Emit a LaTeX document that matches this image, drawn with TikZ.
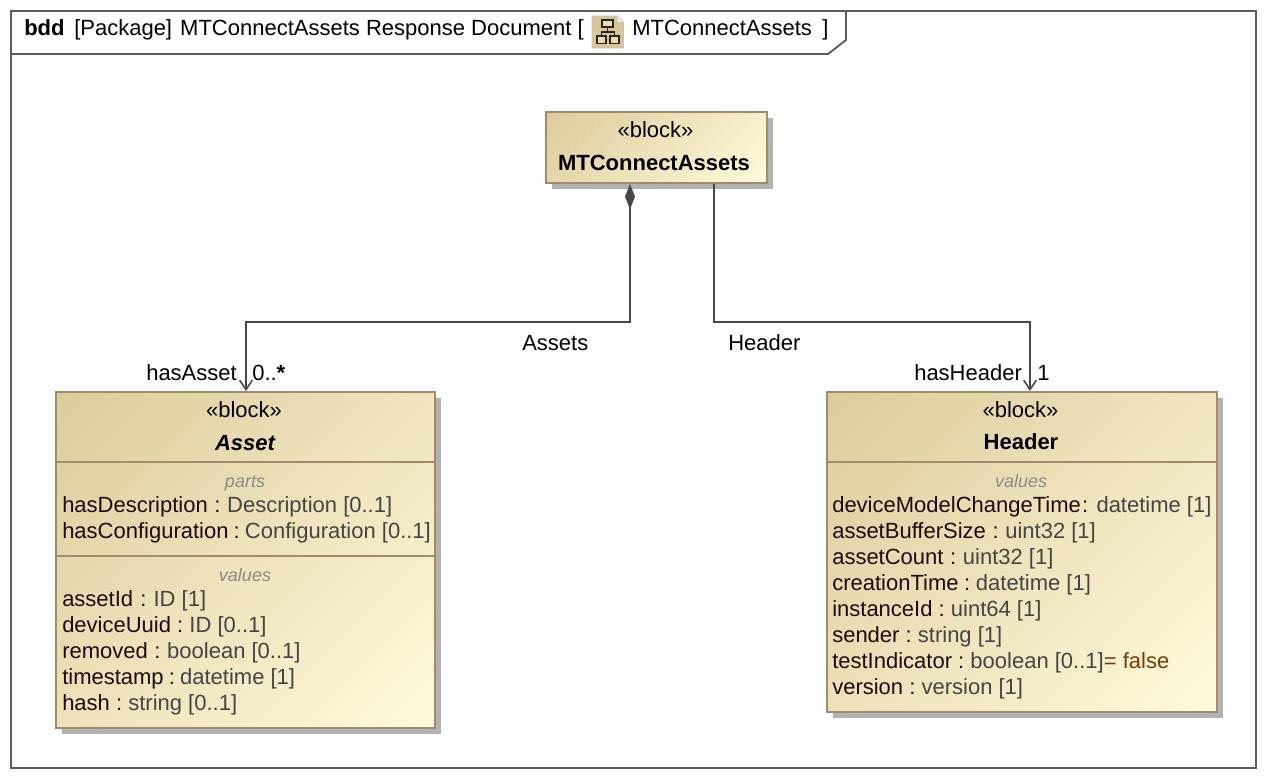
\documentclass[tikz,border=0pt]{standalone}
\usepackage{fontspec}
\setmainfont{Liberation Sans}
\usetikzlibrary{arrows.meta,shadows}
\definecolor{gradA}{HTML}{DDCB9C}
\definecolor{gradB}{HTML}{FFFBDB}
\definecolor{edgeC}{HTML}{A38A6C}
\definecolor{shadowC}{HTML}{B2B2B2}
\definecolor{lineC}{HTML}{484848}
\definecolor{frameC}{HTML}{5C5C5C}
\definecolor{typeC}{HTML}{444444}
\definecolor{nameC}{HTML}{1A0C0C}
\definecolor{valueC}{HTML}{7A3A08}
\definecolor{capC}{HTML}{8A8A8A}
\definecolor{iconC}{HTML}{D9C696}
\definecolor{iconD}{HTML}{EBDDAE}
\pgfdeclareverticalshading{blockgrad}{100bp}{color(0bp)=(gradB);color(14.6bp)=(gradB);color(85.4bp)=(gradA);color(100bp)=(gradA)}
\newcommand{\tyc}[1]{\textcolor{typeC}{#1}}
\newcommand{\att}[3]{#1\kern\dimexpr 5.35pt-0.375pt*#2\relax:\kern\dimexpr 5.35pt-0.375pt*#2\relax\tyc{#3}}
\tikzset{
  blockbox/.style={draw=edgeC,line width=1.5pt,shade,shading=blockgrad,shading angle=45,
    drop shadow={shadow xshift=4.2pt,shadow yshift=-4.2pt,fill=shadowC,opacity=1},inner sep=0pt},
  txt/.style={inner sep=0pt,font=\fontsize{16.5}{18}\selectfont,text=black},
  lefttxt/.style={txt,anchor=base west},
  ctxt/.style={txt,anchor=base},
  boldc/.style={ctxt,font=\fontsize{16.5}{18}\selectfont\bfseries},
  attr/.style={lefttxt,text=nameC},
  captxt/.style={inner sep=0pt,anchor=base,font=\fontsize{13.5}{15}\selectfont\itshape,text=capC},
  divider/.style={draw=edgeC,line width=1.3pt},
  assoc/.style={draw=lineC,line width=1.5pt},
}
\begin{document}
\begin{tikzpicture}[x=0.75pt,y=-0.75pt]
\useasboundingbox (0,0) rectangle (1266,778);
% frame
\coordinate (fTL) at (11,11);
\coordinate (fBR) at (1256,768);
\draw[draw=frameC,line width=1.5pt] (fTL) rectangle (fBR);
\draw[draw=frameC,line width=1.4pt] (11,54) -- (828,54) -- (846,40) -- (846,11);
% title
\node[lefttxt,font=\fontsize{16.5}{18}\selectfont\bfseries] (tBdd) at (24,36) {bdd};
\node[lefttxt] (tMain) at (74,36) {[Package]\kern 1.5pt\ MTConnectAssets Response Document [};
\node[lefttxt] (tName) at (632,36) {MTConnectAssets};
\node[lefttxt] (tEnd) at (822,36) {]};
% icon
\filldraw[fill=iconC,draw=black!25,line width=0.6pt] (592,16) -- (617,16) -- (623.5,22.5) -- (623.5,48) -- (592,48) -- cycle;
\filldraw[fill=white!85!iconC,draw=black!25,line width=0.5pt] (617,16) -- (623.5,22.5) -- (617,22.5) -- cycle;
\draw[black!85,line width=0.9pt,fill=iconD] (602,20) rectangle (613,27);
\draw[black!85,line width=0.9pt] (607.5,27) -- (607.5,32) (601.5,36) -- (601.5,32) -- (614.5,32) -- (614.5,36);
\draw[black!85,line width=0.9pt,fill=iconD] (597,36) rectangle (606,43.5);
\draw[black!85,line width=0.9pt,fill=iconD] (610,36) rectangle (619,43.5);
% blocks
\node[blockbox,minimum width=165.75pt,minimum height=53.25pt] (mt) at (656.5,147.5) {};
\node[blockbox,minimum width=284.25pt,minimum height=252pt] (asset) at (245.5,560) {};
\node[blockbox,minimum width=292.5pt,minimum height=240pt] (header) at (1022,552) {};
% dividers
\coordinate (d1) at (0,462);
\coordinate (d2) at (0,556);
\draw[divider] (asset.west |- d1) -- (asset.east |- d1);
\draw[divider] (asset.west |- d2) -- (asset.east |- d2);
\draw[divider] (header.west |- d1) -- (header.east |- d1);
% connectors
\coordinate (jA) at (630,322);
\coordinate (jH) at (714,322);
\coordinate (aIn) at (246,392);
\coordinate (hIn) at (1030,392);
\draw[assoc,{Diamond[length=19pt,width=7.5pt,fill=lineC]}-{Straight Barb[length=7pt,width=9.5pt,line width=1.2pt]}]
  (mt.south -| jA) -- (jA) -- (jA -| aIn) -- (asset.north -| aIn);
\draw[assoc,-{Straight Barb[length=7pt,width=9.5pt,line width=1.2pt]}]
  (mt.south -| jH) -- (jH) -- (jH -| hIn) -- (header.north -| hIn);
% connector labels
\node[lefttxt] (lAssets) at (522,350) {Assets};
\node[lefttxt] (lHeader) at (728,350) {Header};
\node[lefttxt] (lHasAsset) at (146,380) {hasAsset};
\node[lefttxt] (lMulA) at (252,380) {0..{\bfseries *}};
\node[lefttxt] (lHasHeader) at (914,380) {hasHeader};
\node[lefttxt] (lMulH) at (1037,380) {1};
% block titles
\node[ctxt] (mtS) at (655.5,137) {«block»};
\node[boldc] (mtN) at (654,170) {MTConnectAssets};
\node[ctxt] (aS) at (244,417) {«block»};
\node[boldc,font=\fontsize{16.5}{18}\selectfont\bfseries\itshape] (aN) at (245,450) {Asset};
\node[ctxt] (hS) at (1020.5,417) {«block»};
\node[boldc] (hN) at (1021,449) {Header};
% asset compartments
\node[captxt] (aC1) at (245,487) {parts};
\node[attr] (a1) at (62,512) {\att{hasDescription}{1}{Description [0..1]}};
\node[attr] (a2) at (62,538) {\att{hasConfiguration}{4}{Configuration [0..1]}};
\node[captxt] (aC2) at (245,581) {values};
\node[attr] (a3) at (62,606.5) {\att{assetId}{0}{ID [1]}};
\node[attr] (a4) at (62,632.5) {\att{deviceUuid}{2}{ID [0..1]}};
\node[attr] (a5) at (62,658.5) {\att{removed}{1}{boolean [0..1]}};
\node[attr] (a6) at (62,684) {\att{timestamp}{4}{datetime [1]}};
\node[attr] (a7) at (62,710) {\att{hash}{2}{string [0..1]}};
% header compartment
\node[captxt] (hC) at (1021,487) {values};
\node[attr] (h1) at (832,512) {deviceModelChangeTime\kern 1pt: \tyc{datetime [1]}};
\node[attr] (h2) at (832,538) {\att{assetBufferSize}{1}{uint32 [1]}};
\node[attr] (h3) at (832,564) {\att{assetCount}{1}{uint32 [1]}};
\node[attr] (h4) at (832,590) {\att{creationTime}{3}{datetime [1]}};
\node[attr] (h5) at (832,616) {\att{instanceId}{2}{uint64 [1]}};
\node[attr] (h6) at (832,642) {\att{sender}{2}{string [1]}};
\node[attr] (h7) at (832,668) {\att{testIndicator}{2}{boolean [0..1]}\textcolor{valueC}{= false}};
\node[attr] (h8) at (832,694) {\att{version}{2}{version [1]}};
\end{tikzpicture}
\end{document}
